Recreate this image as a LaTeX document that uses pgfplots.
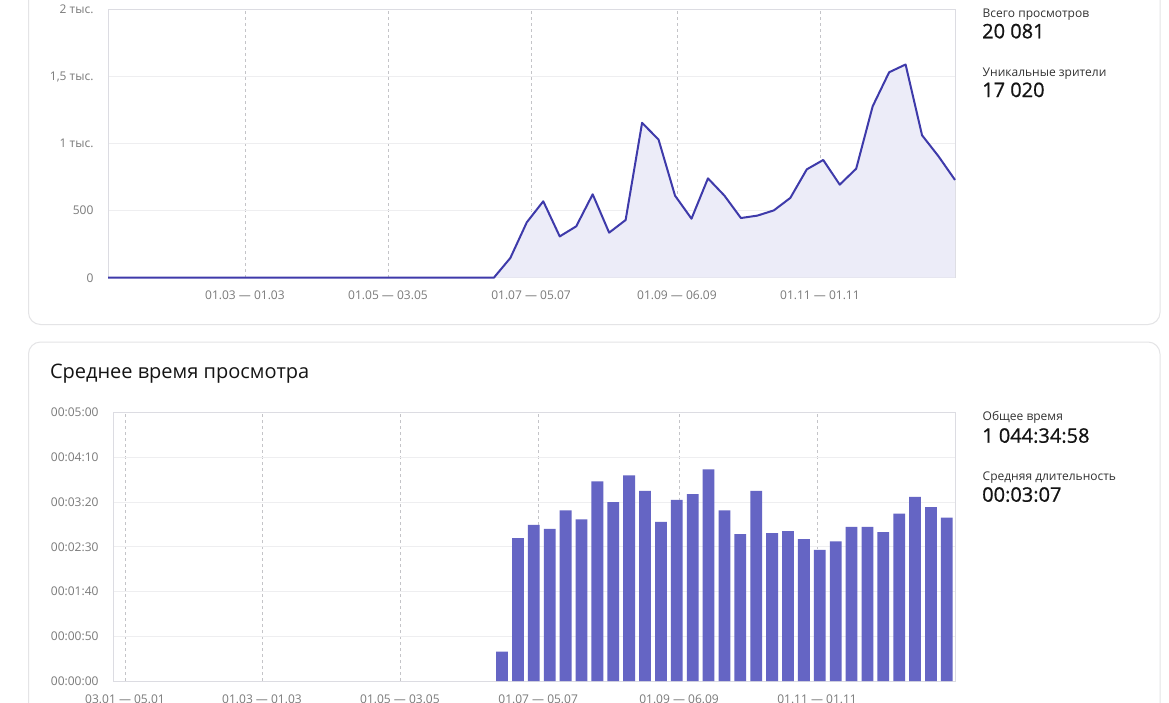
\documentclass[border=0pt]{standalone}
\usepackage{pgfplots}
\pgfplotsset{compat=1.18}
\usepackage{pgfplotstable}
\usepackage{fontspec}
\setmainfont{Open Sans}
\newfontfamily\numfont{Open Sans}[FakeBold=0.7]
\definecolor{linec}{RGB}{62,58,170}
\definecolor{fillc}{RGB}{236,236,248}
\definecolor{barc}{RGB}{101,101,196}
\definecolor{tickc}{RGB}{122,122,122}
\definecolor{gridc}{RGB}{238,238,240}
\definecolor{vgridc}{RGB}{196,196,200}
\definecolor{cardc}{RGB}{228,228,230}
\definecolor{axisc}{RGB}{220,220,226}
\definecolor{labc}{RGB}{50,50,50}
\definecolor{numc}{RGB}{20,20,20}

% weekly views (x = day position on the axis)
\pgfplotstableread{
x y
0 0
3 0
10 0
17 0
24 0
31 0
38 0
45 0
52 0
59 0
66 0
73 0
80 0
87 0
94 0
101 0
108 0
115 0
122 0
129 0
136 0
143 0
150 0
157 0
164 0
171 147
178 413
185 570
192 308
199 383
206 622
213 336
220 430
227 1155
234 1030
241 612
248 440
255 741
262 612
269 445
276 463
283 502
290 595
297 808
304 878
311 694
318 813
325 1278
332 1532
339 1590
346 1062
353 905
360 729
}\views

% weekly average watch time, seconds
\pgfplotstableread{
x y
164 32.8
171 159.7
178 174.6
185 170.2
192 190.7
199 180.6
206 223.1
213 200.0
220 229.8
227 212.7
234 178.0
241 202.6
248 209.0
255 236.6
262 190.7
269 164.2
276 212.7
283 165.3
290 167.5
297 158.6
304 146.6
311 156.0
318 172.4
325 172.4
332 166.4
339 187.3
346 206.0
353 194.4
360 182.8
}\avgtime

\pgfplotsset{
  ystyle/.style={
    scale only axis,
    axis line style={draw=axisc, line width=0.8pt},
    tick style={draw=none},
    xmajorgrids, ymajorgrids,
    x grid style={vgridc, line width=0.6pt, dash pattern=on 3pt off 3pt},
    y grid style={gridc, line width=0.8pt},
    ticklabel style={font=\fontsize{12}{14}\selectfont, text=tickc},
    xticklabel style={anchor=center, yshift=-18pt},
    yticklabel style={anchor=east, xshift=-11pt},
    clip=false,
  }
}

\begin{document}
\begin{tikzpicture}
\path[use as bounding box] (0pt,0pt) rectangle (1169pt,-702pt);
\clip (0pt,0pt) rectangle (1169pt,-702pt);
\fill[white] (0pt,0pt) rectangle (1169pt,-702pt);

\begin{scope}[x=1pt,y=-1pt]
\draw[cardc, line width=1pt, rounded corners=12pt] (28.5,-30) rectangle (1160,324.5);
\draw[cardc, line width=1pt, rounded corners=12pt] (28.5,342) rectangle (1160,760);
\end{scope}

% ---- top: views ----
\begin{axis}[ystyle,
  at={(108pt,-277.7pt)}, anchor=south west,
  width=847pt, height=268.2pt,
  xmin=0, xmax=360, ymin=0, ymax=2000,
  xtick={58.2,119.0,179.8,241.8,302.6},
  xticklabels={01.03 — 01.03, 01.05 — 03.05, 01.07 — 05.07, 01.09 — 06.09, 01.11 — 01.11},
  ytick={0,500,1000,1500,2000},
  yticklabels={0,500,1 тыс.,{1,5 тыс.},2 тыс.},
]
\addplot[draw=none, fill=fillc] table[x=x,y=y]{\views} \closedcycle;
\addplot[linec, line width=2pt, line join=round] table[x=x,y=y]{\views};
\end{axis}

% ---- bottom: average watch time ----
\begin{axis}[ystyle,
  at={(113pt,-681pt)}, anchor=south west,
  width=842pt, height=268.3pt,
  xmin=-7.45, xmax=363.6, ymin=0, ymax=300,
  xtick={-2.16,58.2,119.0,179.9,242.0,302.8},
  xticklabels={03.01 — 05.01, 01.03 — 01.03, 01.05 — 03.05, 01.07 — 05.07, 01.09 — 06.09, 01.11 — 01.11},
  ytick={0,50,100,150,200,250,300},
  yticklabels={00:00:00,00:00:50,00:01:40,00:02:30,00:03:20,00:04:10,00:05:00},
]
\addplot[ybar, bar width=5.2, bar shift=0pt, fill=barc, draw=none] table[x=x,y=y]{\avgtime};
\end{axis}

\begin{scope}[x=1pt,y=-1pt]
\node[anchor=base west, inner sep=0, text=numc, font=\fontsize{20}{24}\selectfont] at (49.8,378.3) {Среднее время просмотра};

\node[anchor=base west, inner sep=0, text=labc, font=\fontsize{12}{14}\selectfont] at (982.5,17) {Всего просмотров};
\node[anchor=base west, inner sep=0, text=numc, font=\numfont\fontsize{20}{24}\selectfont] at (982,38.3) {20 081};
\node[anchor=base west, inner sep=0, text=labc, font=\fontsize{12}{14}\selectfont] at (982.5,76) {Уникальные зрители};
\node[anchor=base west, inner sep=0, text=numc, font=\numfont\fontsize{20}{24}\selectfont] at (982,97) {17 020};

\node[anchor=base west, inner sep=0, text=labc, font=\fontsize{12}{14}\selectfont] at (982.5,420.7) {Общее время};
\node[anchor=base west, inner sep=0, text=numc, font=\numfont\fontsize{20}{24}\selectfont] at (982,442.7) {1 044:34:58};
\node[anchor=base west, inner sep=0, text=labc, font=\fontsize{12}{14}\selectfont] at (982.5,480) {Средняя длительность};
\node[anchor=base west, inner sep=0, text=numc, font=\numfont\fontsize{20}{24}\selectfont] at (982,501.7) {00:03:07};
\end{scope}
\end{tikzpicture}
\end{document}
